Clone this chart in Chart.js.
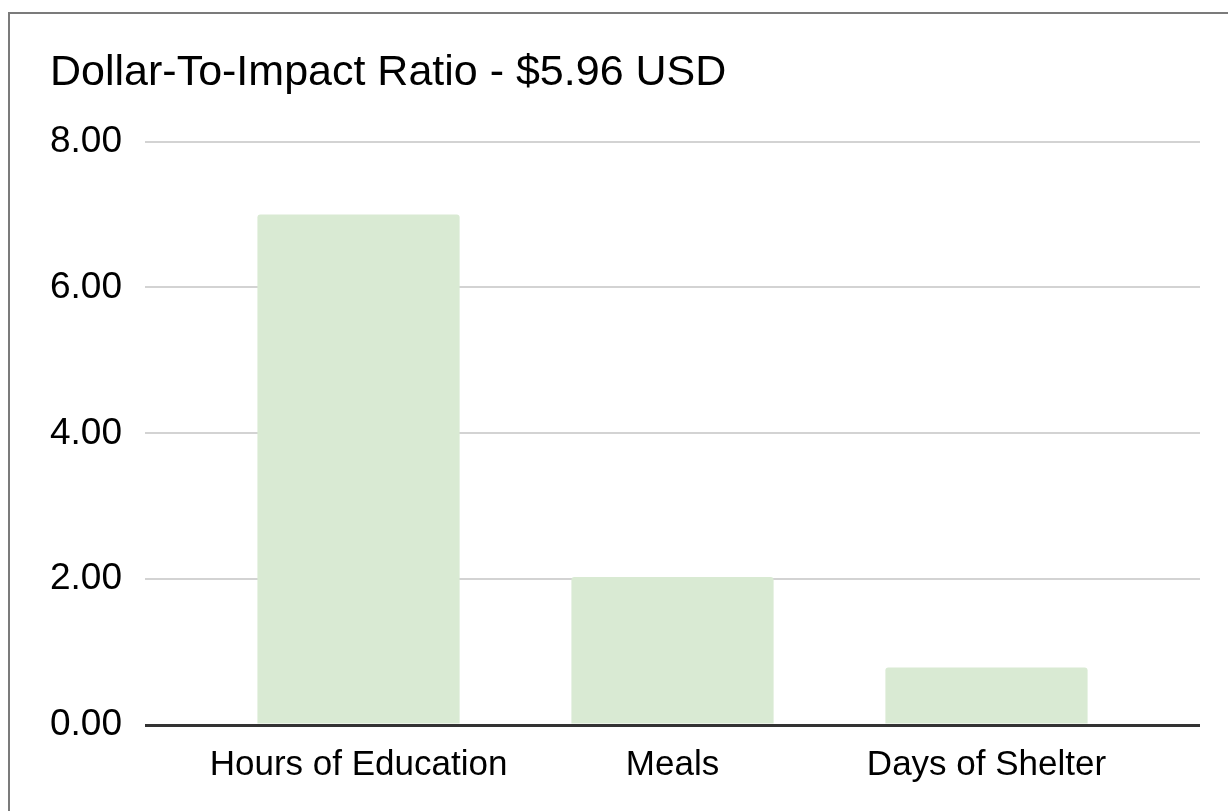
<!DOCTYPE html>
<html>
<head>
<meta charset="utf-8">
<script src="https://cdn.jsdelivr.net/npm/chart.js@4/dist/chart.umd.min.js"></script>
<style>
    html, body { margin: 0; padding: 0; background: #fff; overflow: hidden; }
    .frame {
        position: absolute; left: 8px; top: 12px;
        width: 1400px; height: 1000px;
        border: 2px solid #7b7b7b;
    }
    .wrap { position: absolute; left: 0; top: 0; width: 1228px; height: 811px; }
</style>
</head>
<body>
<div class="frame"></div>
<div class="wrap"><canvas id="impactChart"></canvas></div>
<script>
    // 数据
    const categories = ['Hours of Education', 'Meals', 'Days of Shelter'];
    const impactValues = [7.0, 2.03, 0.79];
    const yTicks = [0, 2, 4, 6, 8];
    const chartTitle = 'Dollar-To-Impact Ratio - $5.96 USD';

    const fontFamily = '"Liberation Sans", Arial, Helvetica, sans-serif';

    // 每个分类放在 x = 0,1,2 上，两侧留出空白
    const barPoints = impactValues.map((v, i) => ({ x: i, y: v }));

    const ctx = document.getElementById('impactChart').getContext('2d');
    const impactChart = new Chart(ctx, {
        type: 'bar',
        data: {
            datasets: [{
                label: 'Impact',
                data: barPoints,
                backgroundColor: '#d9ead3',
                borderRadius: { topLeft: 3, topRight: 3 },
                borderSkipped: 'bottom',
                categoryPercentage: 1,
                barPercentage: 0.644
            }]
        },
        options: {
            responsive: true,
            maintainAspectRatio: false,
            animation: false,
            layout: {
                padding: { left: 50, right: 28, top: 47, bottom: 14 }
            },
            plugins: {
                legend: { display: false },
                tooltip: { enabled: false },
                title: {
                    display: true,
                    text: chartTitle,
                    align: 'start',
                    color: '#000',
                    font: { family: fontFamily, size: 43, weight: 'normal' },
                    padding: { top: 0, bottom: 43 }
                }
            },
            scales: {
                x: {
                    type: 'linear',
                    offset: false,
                    min: -0.68,
                    max: 2.68,
                    afterBuildTicks: (scale) => {
                        scale.ticks = categories.map((c, i) => ({ value: i }));
                    },
                    grid: { display: false },
                    border: { display: false },
                    ticks: {
                        autoSkip: false,
                        maxRotation: 0,
                        padding: 11,
                        color: '#000',
                        font: { family: fontFamily, size: 35 },
                        callback: (value) => categories[value]
                    }
                },
                y: {
                    min: yTicks[0],
                    max: yTicks[yTicks.length - 1],
                    afterBuildTicks: (scale) => {
                        scale.ticks = yTicks.map(v => ({ value: v }));
                    },
                    border: { display: false },
                    grid: {
                        drawTicks: false,
                        color: (c) => c.tick && c.tick.value === 0 ? '#333333' : '#d3d3d3',
                        lineWidth: (c) => c.tick && c.tick.value === 0 ? 3 : 2
                    },
                    ticks: {
                        padding: 11.5,
                        crossAlign: 'far',
                        color: '#000',
                        font: { family: fontFamily, size: 37 },
                        callback: (value) => Number(value).toFixed(2)
                    }
                }
            }
        }
    });
</script>
</body>
</html>
